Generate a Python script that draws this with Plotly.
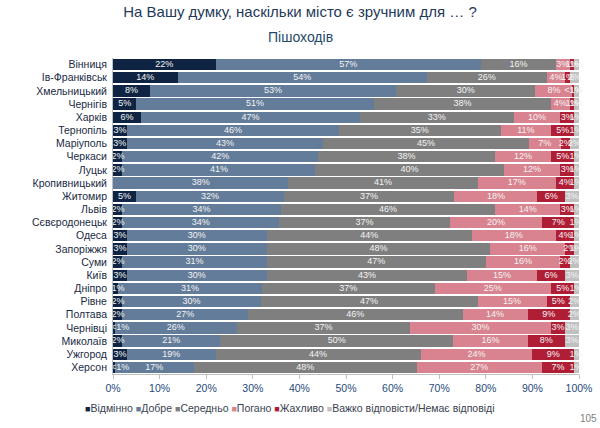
import plotly.graph_objects as go

cities = ["Вінниця", "Ів-Франківськ", "Хмельницький", "Чернігів", "Харків", "Тернопіль",
          "Маріуполь", "Черкаси", "Луцьк", "Кропивницький", "Житомир", "Львів",
          "Сєвєродонецьк", "Одеса", "Запоріжжя", "Суми", "Київ", "Дніпро", "Рівне",
          "Полтава", "Чернівці", "Миколаїв", "Ужгород", "Херсон"]

excellent = [22, 14, 8, 5, 6, 3, 3, 2, 2, 0, 5, 2, 2, 3, 3, 2, 3, 1, 2, 2, 0.4, 2, 3, 0.4]
good      = [57, 54, 53, 51, 47, 46, 43, 42, 41, 38, 32, 34, 34, 30, 30, 31, 30, 31, 30, 27, 26, 21, 19, 17]
average   = [16, 26, 30, 38, 33, 35, 45, 38, 40, 41, 37, 46, 37, 44, 48, 47, 43, 37, 47, 46, 37, 50, 44, 48]
bad       = [3, 4, 8, 4, 10, 11, 7, 12, 12, 17, 18, 14, 20, 18, 16, 16, 15, 25, 15, 14, 30, 16, 24, 27]
terrible  = [1, 1, 0.4, 1, 3, 5, 2, 5, 3, 4, 6, 3, 7, 4, 2, 2, 6, 5, 5, 9, 3, 8, 9, 7]
no_answer = [1, 2, 1, 1, 1, 1, 2, 1, 1, 1, 3, 1, 1, 1, 1, 2, 3, 1, 2, 2, 3, 3, 1, 1]

series_names = ["Відмінно", "Добре", "Середньо", "Погано", "Жахливо",
                "Важко відповісти/Немає відповіді"]
series_vals = [excellent, good, average, bad, terrible, no_answer]
colors = ["#0f2442", "#637c99", "#7f7f7f", "#d8838f", "#b01e36", "#c0c0c0"]

FONT = "Liberation Sans, Arial, sans-serif"
LABEL_FONT = "Liberation Sans Narrow, Liberation Sans, Arial, sans-serif"
PX_PER_PCT = 466 / 100.0
LABEL_SIZE = 9


def lab(v):
    if v == 0:
        return ""
    if v < 1:
        return "<1%"
    return f"{v:g}%"


fig = go.Figure()
for name, vals, col in zip(series_names, series_vals, colors):
    fig.add_trace(go.Bar(
        y=cities, x=vals, name=name, orientation="h",
        marker=dict(color=col, line=dict(width=0)),
        textposition="none", hoverinfo="skip", showlegend=False,
    ))

# data labels: centred in each (normalised) segment, kept inside the plot area
lx, ly, lt = [], [], []
for i, city in enumerate(cities):
    row = [s[i] for s in series_vals]
    total = sum(row)
    left = 0.0
    for v in row:
        t = lab(v)
        if t:
            c = (left + v / 2) / total * 100
            half = len(t) * LABEL_SIZE * 0.5 / 2 / PX_PER_PCT
            c = min(max(c, half + 0.1), 100 - half + 0.3)
            lx.append(c)
            ly.append(city)
            lt.append(t)
        left += v
fig.add_trace(go.Scatter(
    x=lx, y=ly, text=lt, mode="text", textposition="middle center",
    textfont=dict(color="#f4f4f4", size=LABEL_SIZE, family=LABEL_FONT),
    hoverinfo="skip", showlegend=False, cliponaxis=False,
))

fig.update_layout(
    barmode="stack", barnorm="percent", bargap=0.15,
    width=600, height=428,
    margin=dict(l=113, r=21, t=58, b=54, autoexpand=False),
    paper_bgcolor="white", plot_bgcolor="white",
    font=dict(family=FONT, color="#1f3a5a"),
    title=dict(text="На Вашу думку, наскільки місто є зручним для … ?",
               x=0.5, xanchor="center", xref="container",
               y=1 - 12 / 428, yref="container", yanchor="middle",
               font=dict(size=15, color="#1f3a5a", family=FONT)),
    showlegend=False,
)
fig.update_yaxes(range=[len(cities) - 0.5, -0.5], autorange=False,
                 showline=True, linecolor="#bfbfbf", linewidth=1,
                 tickmode="linear", dtick=1, ticks="",
                 tickfont=dict(size=10.5, color="#1a2a44", family=FONT), ticksuffix=" ")
fig.update_xaxes(range=[0, 100], dtick=10, ticksuffix="%", showgrid=False,
                 showline=True, linecolor="#bfbfbf", ticks="outside", ticklen=4,
                 tickcolor="#bfbfbf", tickfont=dict(size=10.5, color="#1f4a7a", family=FONT),
                 zeroline=False)

plot_h = 428 - 58 - 54
fig.add_annotation(text="Пішоходів", xref="paper", yref="paper",
                   x=(300 - 113) / 466, y=1 + (58 - 37) / plot_h, showarrow=False,
                   xanchor="center", yanchor="middle",
                   font=dict(size=14, color="#1f4a6a", family=FONT))

legend_html = " ".join(
    f'<span style="color:{c}; font-size:9px">■</span>{n}'
    for n, c in zip(series_names, colors)
)
fig.add_annotation(text=legend_html, xref="paper", yref="paper",
                   x=(290 - 113) / 466, y=-(408 - 374) / plot_h, showarrow=False,
                   xanchor="center", yanchor="middle",
                   font=dict(size=10.5, color="#3a4250", family=FONT))

fig.add_annotation(text="105", xref="paper", yref="paper", x=1.0, y=-(418 - 374) / plot_h,
                   xshift=9, showarrow=False, xanchor="center", yanchor="middle",
                   font=dict(size=10, color="#7f7f7f", family=FONT))

fig.write_html("out.html")
